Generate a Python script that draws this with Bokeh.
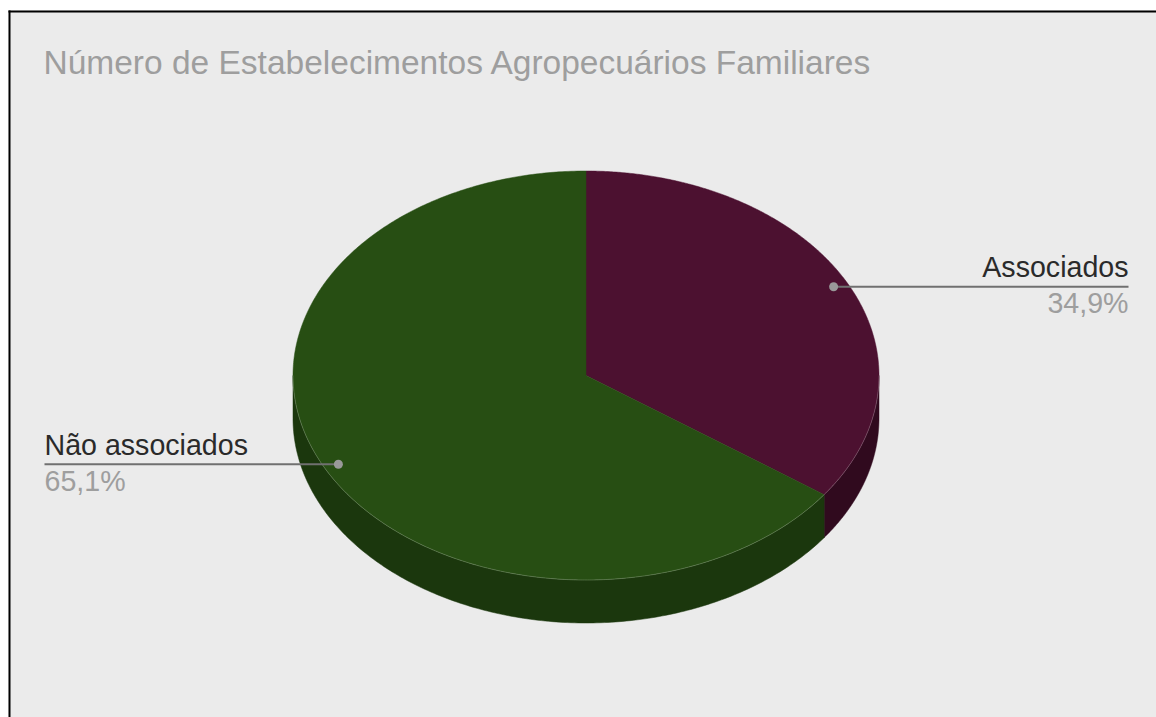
import numpy as np
from bokeh.plotting import figure
from bokeh.models import Range1d
from bokeh.core.properties import value
from bokeh.embed import file_html
from bokeh.resources import INLINE

title = "Número de Estabelecimentos Agropecuários Familiares"
categories = ["Associados", "Não associados"]
shares = [34.9, 65.1]
share_labels = ["34,9%", "65,1%"]
top_colors = ["#4c1130", "#274e13"]
side_colors = ["#300a1e", "#1b370d"]

BG = "#ebebeb"
FONT = value("Liberation Sans")
cx, cy, rx, ry, depth = 585.5, 375.0, 293.0, 204.5, 43.0

p = figure(width=1156, height=717, x_range=Range1d(0, 1156), y_range=Range1d(717, 0),
           toolbar_location=None, output_backend="svg", min_border=0,
           background_fill_color="white", border_fill_color="white")
p.axis.visible = False
p.grid.visible = False
p.outline_line_color = None

p.quad(left=8, right=1156, top=10, bottom=717, fill_color=BG, line_color=None)
p.quad(left=8, right=1156, top=10, bottom=12, fill_color="#000000", line_color=None)
p.quad(left=8, right=10, top=10, bottom=717, fill_color="#000000", line_color=None)


def px(a):
    return cx + rx * np.sin(a)


def py(a):
    return cy - ry * np.cos(a)


total = sum(shares)
edges = np.concatenate([[0.0], np.cumsum(shares)]) / total * 2 * np.pi

for i in range(len(shares)):
    a0, a1 = max(edges[i], np.pi / 2), min(edges[i + 1], 3 * np.pi / 2)
    if a1 <= a0:
        continue
    t = np.linspace(a0, a1, 200)
    xs = np.concatenate([px(t), px(t[::-1])])
    ys = np.concatenate([py(t), py(t[::-1]) + depth])
    p.patch(xs, ys, fill_color=side_colors[i], line_color=side_colors[i], line_width=0.5)

for i in range(len(shares)):
    t = np.linspace(edges[i], edges[i + 1], 400)
    xs = np.concatenate([[cx], px(t)])
    ys = np.concatenate([[cy], py(t)])
    p.patch(xs, ys, fill_color=top_colors[i], line_color=top_colors[i], line_width=0.5)

t = np.linspace(np.pi / 2, 3 * np.pi / 2, 400)
p.line(px(t), py(t), line_color="#ffffff", line_alpha=0.2, line_width=1)

mids = (edges[:-1] + edges[1:]) / 2
for i, name in enumerate(categories):
    dx, dy = cx + 0.95 * rx * np.sin(mids[i]), cy - 0.95 * ry * np.cos(mids[i])
    right_side = dx > cx
    end = 1128 if right_side else 44
    p.line([dx, end], [dy, dy], line_color="#707070", line_width=2)
    p.scatter([dx], [dy], size=9, fill_color="#999999", line_color=None)
    align = "right" if right_side else "left"
    p.text([end], [dy - 19.5], text=[name], text_font=FONT, text_font_size="28.6px",
           text_color="#2a2a2a", text_align=align, text_baseline="alphabetic")
    p.text([end], [dy + 16.5], text=[share_labels[i]], text_font=FONT, text_font_size="28.6px",
           text_color="#9e9e9e", text_align=align, text_baseline="alphabetic")

p.text([43], [62], text=[title], text_font=FONT, text_font_size="33.5px",
       text_color="#9e9e9e", text_align="left", text_baseline="alphabetic")

open("out.html", "w").write(file_html(p, INLINE))
